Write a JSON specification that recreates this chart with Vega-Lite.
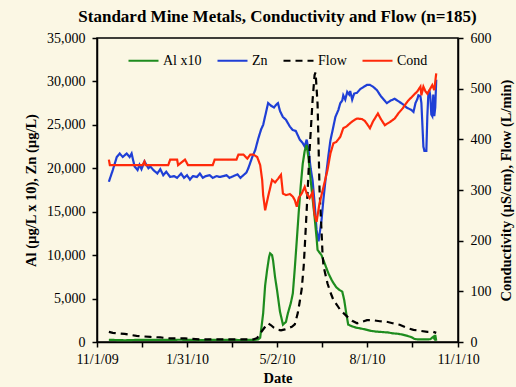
{
  "$schema": "https://vega.github.io/schema/vega-lite/v6.json",
  "width": 361,
  "height": 304,
  "autosize": {"type": "none"},
  "padding": {"left": 97, "top": 38, "right": 58, "bottom": 45},
  "background": "#FBF7E4",
  "title": {"text": "Standard Mine Metals, Conductivity and Flow (n=185)", "font": "Liberation Serif", "fontSize": 17, "fontWeight": "bold", "anchor": "middle", "offset": 5, "color": "black"},
  "config": {
    "view": {"stroke": "black", "strokeWidth": 1.5},
    "axis": {"labelFont": "Liberation Serif", "labelFontSize": 14, "labelColor": "black", "titleFont": "Liberation Serif", "titleFontSize": 14.5, "titleFontWeight": "bold", "titleColor": "black", "domainColor": "black", "domainWidth": 1.5, "tickColor": "black", "tickWidth": 1.5, "tickSize": 5, "grid": false, "labelOverlap": false, "labelFlush": false}
  },
  "data": {"values": [
    {"d":"2009-11-13","s":"Zn","v":18450},{"d":"2009-11-17","s":"Zn","v":19800},{"d":"2009-11-21","s":"Zn","v":21300},{"d":"2009-11-24","s":"Zn","v":21700},{"d":"2009-11-27","s":"Zn","v":21300},{"d":"2009-12-01","s":"Zn","v":21700},{"d":"2009-12-04","s":"Zn","v":21300},{"d":"2009-12-06","s":"Zn","v":21700},{"d":"2009-12-09","s":"Zn","v":20200},{"d":"2009-12-12","s":"Zn","v":19800},{"d":"2009-12-14","s":"Zn","v":20400},{"d":"2009-12-16","s":"Zn","v":19900},{"d":"2009-12-19","s":"Zn","v":20800},{"d":"2009-12-23","s":"Zn","v":20000},{"d":"2009-12-25","s":"Zn","v":20200},{"d":"2009-12-28","s":"Zn","v":19800},{"d":"2010-01-01","s":"Zn","v":19400},{"d":"2010-01-04","s":"Zn","v":19900},{"d":"2010-01-07","s":"Zn","v":19200},{"d":"2010-01-10","s":"Zn","v":19600},{"d":"2010-01-14","s":"Zn","v":19000},{"d":"2010-01-18","s":"Zn","v":19100},{"d":"2010-01-21","s":"Zn","v":18900},{"d":"2010-01-25","s":"Zn","v":19400},{"d":"2010-01-28","s":"Zn","v":18900},{"d":"2010-01-31","s":"Zn","v":19200},{"d":"2010-02-03","s":"Zn","v":18700},{"d":"2010-02-06","s":"Zn","v":19100},{"d":"2010-02-10","s":"Zn","v":19000},{"d":"2010-02-13","s":"Zn","v":19400},{"d":"2010-02-16","s":"Zn","v":18900},{"d":"2010-02-19","s":"Zn","v":19100},{"d":"2010-02-23","s":"Zn","v":19200},{"d":"2010-02-26","s":"Zn","v":18900},{"d":"2010-03-02","s":"Zn","v":19100},{"d":"2010-03-05","s":"Zn","v":19000},{"d":"2010-03-09","s":"Zn","v":19100},{"d":"2010-03-12","s":"Zn","v":19200},{"d":"2010-03-15","s":"Zn","v":18900},{"d":"2010-03-19","s":"Zn","v":19100},{"d":"2010-03-23","s":"Zn","v":19300},{"d":"2010-03-26","s":"Zn","v":18900},{"d":"2010-03-29","s":"Zn","v":19200},{"d":"2010-04-01","s":"Zn","v":19500},{"d":"2010-04-03","s":"Zn","v":20000},{"d":"2010-04-07","s":"Zn","v":21300},{"d":"2010-04-10","s":"Zn","v":22100},{"d":"2010-04-13","s":"Zn","v":23400},{"d":"2010-04-16","s":"Zn","v":24500},{"d":"2010-04-18","s":"Zn","v":25000},{"d":"2010-04-21","s":"Zn","v":26500},{"d":"2010-04-23","s":"Zn","v":27500},{"d":"2010-04-26","s":"Zn","v":27200},{"d":"2010-04-29","s":"Zn","v":27000},{"d":"2010-05-01","s":"Zn","v":27300},{"d":"2010-05-03","s":"Zn","v":27500},{"d":"2010-05-05","s":"Zn","v":26600},{"d":"2010-05-08","s":"Zn","v":25900},{"d":"2010-05-11","s":"Zn","v":25600},{"d":"2010-05-15","s":"Zn","v":24800},{"d":"2010-05-18","s":"Zn","v":24400},{"d":"2010-05-21","s":"Zn","v":24300},{"d":"2010-05-25","s":"Zn","v":23300},{"d":"2010-05-28","s":"Zn","v":22900},{"d":"2010-05-30","s":"Zn","v":22500},{"d":"2010-06-01","s":"Zn","v":23300},{"d":"2010-06-03","s":"Zn","v":22000},{"d":"2010-06-05","s":"Zn","v":20000},{"d":"2010-06-07","s":"Zn","v":18600},{"d":"2010-06-09","s":"Zn","v":16000},{"d":"2010-06-11","s":"Zn","v":12900},{"d":"2010-06-13","s":"Zn","v":11600},{"d":"2010-06-16","s":"Zn","v":14000},{"d":"2010-06-18","s":"Zn","v":16500},{"d":"2010-06-20","s":"Zn","v":18600},{"d":"2010-06-23","s":"Zn","v":21500},{"d":"2010-06-25","s":"Zn","v":23200},{"d":"2010-06-28","s":"Zn","v":24800},{"d":"2010-06-30","s":"Zn","v":25900},{"d":"2010-07-03","s":"Zn","v":26700},{"d":"2010-07-05","s":"Zn","v":27500},{"d":"2010-07-07","s":"Zn","v":27800},{"d":"2010-07-08","s":"Zn","v":28400},{"d":"2010-07-10","s":"Zn","v":27900},{"d":"2010-07-12","s":"Zn","v":28800},{"d":"2010-07-14","s":"Zn","v":28500},{"d":"2010-07-15","s":"Zn","v":28900},{"d":"2010-07-17","s":"Zn","v":27900},{"d":"2010-07-19","s":"Zn","v":28600},{"d":"2010-07-22","s":"Zn","v":28700},{"d":"2010-07-25","s":"Zn","v":29100},{"d":"2010-07-29","s":"Zn","v":29400},{"d":"2010-08-01","s":"Zn","v":29600},{"d":"2010-08-04","s":"Zn","v":29600},{"d":"2010-08-07","s":"Zn","v":29400},{"d":"2010-08-11","s":"Zn","v":29000},{"d":"2010-08-15","s":"Zn","v":28300},{"d":"2010-08-18","s":"Zn","v":27900},{"d":"2010-08-21","s":"Zn","v":27500},{"d":"2010-08-25","s":"Zn","v":27800},{"d":"2010-08-29","s":"Zn","v":28000},{"d":"2010-09-02","s":"Zn","v":27700},{"d":"2010-09-06","s":"Zn","v":27400},{"d":"2010-09-10","s":"Zn","v":27000},{"d":"2010-09-15","s":"Zn","v":26700},{"d":"2010-09-17","s":"Zn","v":26500},{"d":"2010-09-19","s":"Zn","v":27500},{"d":"2010-09-21","s":"Zn","v":28000},{"d":"2010-09-22","s":"Zn","v":28400},{"d":"2010-09-24","s":"Zn","v":28300},{"d":"2010-09-25","s":"Zn","v":27500},{"d":"2010-09-26","s":"Zn","v":25000},{"d":"2010-09-27","s":"Zn","v":22500},{"d":"2010-09-28","s":"Zn","v":22000},{"d":"2010-09-30","s":"Zn","v":22000},{"d":"2010-10-01","s":"Zn","v":26000},{"d":"2010-10-02","s":"Zn","v":28500},{"d":"2010-10-03","s":"Zn","v":29000},{"d":"2010-10-04","s":"Zn","v":28300},{"d":"2010-10-05","s":"Zn","v":26200},{"d":"2010-10-06","s":"Zn","v":26000},{"d":"2010-10-07","s":"Zn","v":28500},{"d":"2010-10-08","s":"Zn","v":26000},{"d":"2010-10-09","s":"Zn","v":27000},{"d":"2010-10-10","s":"Zn","v":30200},

    {"d":"2009-11-13","s":"Al x10","v":250},{"d":"2009-11-29","s":"Al x10","v":200},{"d":"2009-12-14","s":"Al x10","v":250},{"d":"2010-01-04","s":"Al x10","v":230},{"d":"2010-01-24","s":"Al x10","v":260},{"d":"2010-02-13","s":"Al x10","v":220},{"d":"2010-03-05","s":"Al x10","v":250},{"d":"2010-03-26","s":"Al x10","v":230},{"d":"2010-04-10","s":"Al x10","v":250},{"d":"2010-04-13","s":"Al x10","v":300},{"d":"2010-04-15","s":"Al x10","v":500},{"d":"2010-04-18","s":"Al x10","v":3300},{"d":"2010-04-20","s":"Al x10","v":6500},{"d":"2010-04-22","s":"Al x10","v":8300},{"d":"2010-04-24","s":"Al x10","v":9800},{"d":"2010-04-25","s":"Al x10","v":10200},{"d":"2010-04-27","s":"Al x10","v":10000},{"d":"2010-04-28","s":"Al x10","v":9400},{"d":"2010-04-30","s":"Al x10","v":7500},{"d":"2010-05-02","s":"Al x10","v":6000},{"d":"2010-05-05","s":"Al x10","v":3500},{"d":"2010-05-08","s":"Al x10","v":2000},{"d":"2010-05-11","s":"Al x10","v":2300},{"d":"2010-05-13","s":"Al x10","v":3300},{"d":"2010-05-16","s":"Al x10","v":4500},{"d":"2010-05-18","s":"Al x10","v":5600},{"d":"2010-05-20","s":"Al x10","v":8500},{"d":"2010-05-22","s":"Al x10","v":11700},{"d":"2010-05-24","s":"Al x10","v":15000},{"d":"2010-05-26","s":"Al x10","v":18000},{"d":"2010-05-28","s":"Al x10","v":20500},{"d":"2010-05-30","s":"Al x10","v":22000},{"d":"2010-06-01","s":"Al x10","v":22700},{"d":"2010-06-03","s":"Al x10","v":21000},{"d":"2010-06-05","s":"Al x10","v":18700},{"d":"2010-06-07","s":"Al x10","v":16500},{"d":"2010-06-09","s":"Al x10","v":14400},{"d":"2010-06-11","s":"Al x10","v":12000},{"d":"2010-06-12","s":"Al x10","v":10600},{"d":"2010-06-16","s":"Al x10","v":10000},{"d":"2010-06-18","s":"Al x10","v":9400},{"d":"2010-06-21","s":"Al x10","v":8500},{"d":"2010-06-23","s":"Al x10","v":7900},{"d":"2010-06-26","s":"Al x10","v":7200},{"d":"2010-06-28","s":"Al x10","v":6800},{"d":"2010-07-01","s":"Al x10","v":6300},{"d":"2010-07-04","s":"Al x10","v":6000},{"d":"2010-07-07","s":"Al x10","v":5800},{"d":"2010-07-09","s":"Al x10","v":4800},{"d":"2010-07-11","s":"Al x10","v":3300},{"d":"2010-07-13","s":"Al x10","v":2000},{"d":"2010-07-17","s":"Al x10","v":1800},{"d":"2010-07-21","s":"Al x10","v":1650},{"d":"2010-07-25","s":"Al x10","v":1570},{"d":"2010-07-30","s":"Al x10","v":1450},{"d":"2010-08-04","s":"Al x10","v":1300},{"d":"2010-08-10","s":"Al x10","v":1200},{"d":"2010-08-16","s":"Al x10","v":1150},{"d":"2010-08-22","s":"Al x10","v":1100},{"d":"2010-08-27","s":"Al x10","v":1000},{"d":"2010-09-01","s":"Al x10","v":950},{"d":"2010-09-06","s":"Al x10","v":850},{"d":"2010-09-11","s":"Al x10","v":700},{"d":"2010-09-15","s":"Al x10","v":550},{"d":"2010-09-18","s":"Al x10","v":350},{"d":"2010-09-21","s":"Al x10","v":300},{"d":"2010-09-26","s":"Al x10","v":300},{"d":"2010-09-30","s":"Al x10","v":300},{"d":"2010-10-04","s":"Al x10","v":320},{"d":"2010-10-07","s":"Al x10","v":600},{"d":"2010-10-08","s":"Al x10","v":400},{"d":"2010-10-09","s":"Al x10","v":800},{"d":"2010-10-10","s":"Al x10","v":150},

    {"d":"2009-11-13","s":"Flow","v":20},{"d":"2009-11-17","s":"Flow","v":18},{"d":"2009-11-22","s":"Flow","v":17},{"d":"2009-11-29","s":"Flow","v":16},{"d":"2009-12-11","s":"Flow","v":12},{"d":"2009-12-25","s":"Flow","v":10},{"d":"2010-01-04","s":"Flow","v":9},{"d":"2010-01-14","s":"Flow","v":7},{"d":"2010-01-29","s":"Flow","v":7},{"d":"2010-02-13","s":"Flow","v":5},{"d":"2010-03-05","s":"Flow","v":5},{"d":"2010-03-26","s":"Flow","v":5},{"d":"2010-04-08","s":"Flow","v":5},{"d":"2010-04-12","s":"Flow","v":8},{"d":"2010-04-15","s":"Flow","v":17},{"d":"2010-04-20","s":"Flow","v":30},{"d":"2010-04-23","s":"Flow","v":37},{"d":"2010-04-26","s":"Flow","v":33},{"d":"2010-04-29","s":"Flow","v":28},{"d":"2010-05-03","s":"Flow","v":24},{"d":"2010-05-06","s":"Flow","v":23},{"d":"2010-05-10","s":"Flow","v":25},{"d":"2010-05-14","s":"Flow","v":28},{"d":"2010-05-17","s":"Flow","v":30},{"d":"2010-05-20","s":"Flow","v":35},{"d":"2010-05-23","s":"Flow","v":57},{"d":"2010-05-25","s":"Flow","v":80},{"d":"2010-05-27","s":"Flow","v":105},{"d":"2010-05-29","s":"Flow","v":150},{"d":"2010-05-30","s":"Flow","v":185},{"d":"2010-06-01","s":"Flow","v":260},{"d":"2010-06-04","s":"Flow","v":380},{"d":"2010-06-07","s":"Flow","v":478},{"d":"2010-06-09","s":"Flow","v":527},{"d":"2010-06-10","s":"Flow","v":532},{"d":"2010-06-12","s":"Flow","v":470},{"d":"2010-06-13","s":"Flow","v":390},{"d":"2010-06-14","s":"Flow","v":300},{"d":"2010-06-16","s":"Flow","v":220},{"d":"2010-06-17","s":"Flow","v":175},{"d":"2010-06-18","s":"Flow","v":150},{"d":"2010-06-22","s":"Flow","v":116},{"d":"2010-06-25","s":"Flow","v":98},{"d":"2010-06-28","s":"Flow","v":83},{"d":"2010-07-02","s":"Flow","v":72},{"d":"2010-07-05","s":"Flow","v":63},{"d":"2010-07-12","s":"Flow","v":50},{"d":"2010-07-17","s":"Flow","v":42},{"d":"2010-07-22","s":"Flow","v":37},{"d":"2010-07-27","s":"Flow","v":40},{"d":"2010-08-01","s":"Flow","v":43},{"d":"2010-08-07","s":"Flow","v":43},{"d":"2010-08-14","s":"Flow","v":41},{"d":"2010-08-21","s":"Flow","v":40},{"d":"2010-08-27","s":"Flow","v":37},{"d":"2010-09-03","s":"Flow","v":34},{"d":"2010-09-10","s":"Flow","v":28},{"d":"2010-09-17","s":"Flow","v":24},{"d":"2010-09-24","s":"Flow","v":22},{"d":"2010-10-01","s":"Flow","v":20},{"d":"2010-10-07","s":"Flow","v":20},{"d":"2010-10-10","s":"Flow","v":18},

    {"d":"2009-11-13","s":"Cond","v":360},{"d":"2009-11-14","s":"Cond","v":349},{"d":"2009-12-17","s":"Cond","v":349},{"d":"2009-12-19","s":"Cond","v":356},{"d":"2009-12-20","s":"Cond","v":349},{"d":"2010-01-12","s":"Cond","v":349},{"d":"2010-01-14","s":"Cond","v":360},{"d":"2010-01-21","s":"Cond","v":360},{"d":"2010-01-22","s":"Cond","v":349},{"d":"2010-01-29","s":"Cond","v":360},{"d":"2010-02-01","s":"Cond","v":349},{"d":"2010-02-26","s":"Cond","v":349},{"d":"2010-02-28","s":"Cond","v":360},{"d":"2010-03-22","s":"Cond","v":360},{"d":"2010-03-24","s":"Cond","v":370},{"d":"2010-03-29","s":"Cond","v":370},{"d":"2010-04-02","s":"Cond","v":362},{"d":"2010-04-05","s":"Cond","v":370},{"d":"2010-04-08","s":"Cond","v":370},{"d":"2010-04-12","s":"Cond","v":365},{"d":"2010-04-15","s":"Cond","v":349},{"d":"2010-04-17","s":"Cond","v":320},{"d":"2010-04-18","s":"Cond","v":290},{"d":"2010-04-20","s":"Cond","v":260},{"d":"2010-04-23","s":"Cond","v":287},{"d":"2010-04-27","s":"Cond","v":320},{"d":"2010-04-30","s":"Cond","v":315},{"d":"2010-05-03","s":"Cond","v":322},{"d":"2010-05-06","s":"Cond","v":330},{"d":"2010-05-08","s":"Cond","v":293},{"d":"2010-05-11","s":"Cond","v":290},{"d":"2010-05-15","s":"Cond","v":292},{"d":"2010-05-18","s":"Cond","v":287},{"d":"2010-05-20","s":"Cond","v":280},{"d":"2010-05-22","s":"Cond","v":267},{"d":"2010-05-24","s":"Cond","v":285},{"d":"2010-05-27","s":"Cond","v":293},{"d":"2010-05-30","s":"Cond","v":306},{"d":"2010-06-01","s":"Cond","v":293},{"d":"2010-06-04","s":"Cond","v":284},{"d":"2010-06-07","s":"Cond","v":296},{"d":"2010-06-09","s":"Cond","v":251},{"d":"2010-06-11","s":"Cond","v":237},{"d":"2010-06-14","s":"Cond","v":274},{"d":"2010-06-18","s":"Cond","v":306},{"d":"2010-06-22","s":"Cond","v":339},{"d":"2010-06-25","s":"Cond","v":372},{"d":"2010-06-28","s":"Cond","v":392},{"d":"2010-07-01","s":"Cond","v":395},{"d":"2010-07-05","s":"Cond","v":405},{"d":"2010-07-08","s":"Cond","v":422},{"d":"2010-07-11","s":"Cond","v":425},{"d":"2010-07-15","s":"Cond","v":432},{"d":"2010-07-19","s":"Cond","v":438},{"d":"2010-07-22","s":"Cond","v":441},{"d":"2010-07-27","s":"Cond","v":440},{"d":"2010-07-30","s":"Cond","v":436},{"d":"2010-08-04","s":"Cond","v":422},{"d":"2010-08-07","s":"Cond","v":435},{"d":"2010-08-12","s":"Cond","v":451},{"d":"2010-08-15","s":"Cond","v":440},{"d":"2010-08-19","s":"Cond","v":428},{"d":"2010-08-24","s":"Cond","v":434},{"d":"2010-08-29","s":"Cond","v":441},{"d":"2010-09-02","s":"Cond","v":452},{"d":"2010-09-06","s":"Cond","v":461},{"d":"2010-09-11","s":"Cond","v":475},{"d":"2010-09-17","s":"Cond","v":487},{"d":"2010-09-21","s":"Cond","v":495},{"d":"2010-09-24","s":"Cond","v":504},{"d":"2010-09-25","s":"Cond","v":487},{"d":"2010-09-27","s":"Cond","v":504},{"d":"2010-09-29","s":"Cond","v":495},{"d":"2010-10-01","s":"Cond","v":490},{"d":"2010-10-04","s":"Cond","v":500},{"d":"2010-10-06","s":"Cond","v":507},{"d":"2010-10-08","s":"Cond","v":497},{"d":"2010-10-10","s":"Cond","v":530}
  ]},
  "encoding": {
    "x": {"field": "d", "type": "temporal",
      "scale": {"type": "utc", "domain": [{"year": 2009, "month": 11, "date": 1, "utc": true}, {"year": 2010, "month": 11, "date": 1, "utc": true}]},
      "axis": {"title": "Date", "format": "%-m/%-d/%y", "labelPadding": 5, "titlePadding": 5,
        "values": [{"year": 2009, "month": 11, "date": 1, "utc": true}, {"year": 2009, "month": 12, "date": 16, "utc": true}, {"year": 2010, "month": 1, "date": 31, "utc": true}, {"year": 2010, "month": 3, "date": 17, "utc": true}, {"year": 2010, "month": 5, "date": 2, "utc": true}, {"year": 2010, "month": 6, "date": 16, "utc": true}, {"year": 2010, "month": 8, "date": 1, "utc": true}, {"year": 2010, "month": 9, "date": 15, "utc": true}, {"year": 2010, "month": 11, "date": 1, "utc": true}],
        "labelExpr": "indexof(['11/1/09','1/31/10','5/2/10','8/1/10','11/1/10'], datum.label) >= 0 ? datum.label : ''"}},
    "color": {"field": "s", "type": "nominal",
      "scale": {"domain": ["Al x10", "Zn", "Flow", "Cond"], "range": ["#1E8C1E", "#1F3FD6", "#000000", "#FF2A0A"]},
      "legend": {"orient": "none", "legendX": 30, "legendY": 6, "direction": "horizontal", "columns": 4, "title": null, "symbolType": "stroke", "symbolSize": 900, "symbolStrokeWidth": 2.2, "labelFont": "Liberation Serif", "labelFontSize": 14, "labelColor": "black", "columnPadding": 11, "padding": 0, "labelOffset": 3}},
    "strokeDash": {"field": "s", "type": "nominal",
      "scale": {"domain": ["Al x10", "Zn", "Flow", "Cond"], "range": [[1, 0], [1, 0], [7, 5], [1, 0]]},
      "legend": {"orient": "none", "legendX": 30, "legendY": 6, "direction": "horizontal", "columns": 4, "title": null, "symbolType": "stroke", "symbolSize": 900, "symbolStrokeWidth": 2.2, "labelFont": "Liberation Serif", "labelFontSize": 14, "labelColor": "black", "columnPadding": 11, "padding": 0, "labelOffset": 3}}
  },
  "layer": [
    {
      "transform": [{"filter": "datum.s == 'Al x10' || datum.s == 'Zn'"}],
      "mark": {"type": "line", "strokeWidth": 2.2},
      "encoding": {
        "y": {"field": "v", "type": "quantitative", "scale": {"domain": [0, 35000]},
          "axis": {"title": "Al (µg/L x 10), Zn (µg/L)", "values": [0, 5000, 10000, 15000, 20000, 25000, 30000, 35000], "format": ",d", "labelPadding": 7, "titlePadding": 8}}
      }
    },
    {
      "transform": [{"filter": "datum.s == 'Flow' || datum.s == 'Cond'"}],
      "mark": {"type": "line", "strokeWidth": 2.2},
      "encoding": {
        "y": {"field": "v", "type": "quantitative", "scale": {"domain": [0, 600]},
          "axis": {"orient": "right", "title": "Conductivity (µS/cm), Flow (L/min)", "values": [0, 100, 200, 300, 400, 500, 600], "labelPadding": 7, "titleAngle": 270, "titleBaseline": "top", "titlePadding": 8}}
      }
    }
  ],
  "resolve": {"scale": {"y": "independent"}}
}
